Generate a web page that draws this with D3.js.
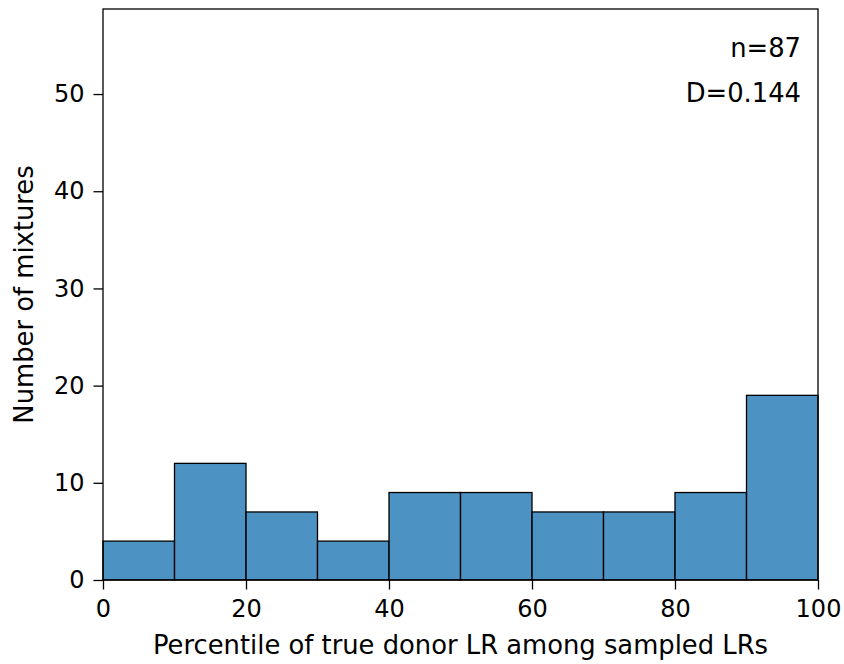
<!DOCTYPE html>
<html>
<head>
<meta charset="utf-8">
<script src="https://cdn.jsdelivr.net/npm/d3@7"></script>
<style>
  html, body { margin: 0; padding: 0; background: #fff; }
  svg text { font-family: "DejaVu Sans", sans-serif; fill: #000; }
</style>
</head>
<body>
<svg id="chart" width="844" height="664"></svg>
<script>
// Histogram of percentiles: bin edges and counts per bin
const binEdges = [0, 10, 20, 30, 40, 50, 60, 70, 80, 90, 100];
const binCounts = [4, 12, 7, 4, 9, 9, 7, 7, 9, 19];
const xTicks = [0, 20, 40, 60, 80, 100];
const yTicks = [0, 10, 20, 30, 40, 50];
const statLines = ["n=87", "D=0.144"];
const xLabel = "Percentile of true donor LR among sampled LRs";
const yLabel = "Number of mixtures";

const svg = d3.select("#chart");
const margin = { left: 103, right: 26, top: 9, bottom: 84 };
const W = 844, H = 664;
const plotW = W - margin.left - margin.right;
const plotH = H - margin.top - margin.bottom;

const x = d3.scaleLinear().domain([0, 100]).range([0, plotW]);
const y = d3.scaleLinear().domain([0, 58.75]).range([plotH, 0]);

const g = svg.append("g").attr("transform", `translate(${margin.left},${margin.top})`);

const bins = binCounts.map((c, i) => ({ x0: binEdges[i], x1: binEdges[i + 1], count: c }));

g.selectAll("rect.bar").data(bins).join("rect")
  .attr("class", "bar")
  .attr("x", d => x(d.x0))
  .attr("width", d => x(d.x1) - x(d.x0))
  .attr("y", d => y(d.count))
  .attr("height", d => y(0) - y(d.count))
  .attr("fill", "#1f77b4")
  .attr("fill-opacity", 0.8)
  .attr("stroke", "#000")
  .attr("stroke-width", 1.3);

// Frame
g.append("rect")
  .attr("x", 0).attr("y", 0).attr("width", plotW).attr("height", plotH)
  .attr("fill", "none").attr("stroke", "#000").attr("stroke-width", 1.3);

const tickFont = 24;
const labelFont = 25.8;

const xAxis = g.append("g").attr("transform", `translate(0,${plotH})`)
  .call(d3.axisBottom(x).tickValues(xTicks).tickSize(9.5).tickPadding(10).tickFormat(d3.format("d")));
const yAxis = g.append("g")
  .call(d3.axisLeft(y).tickValues(yTicks).tickSize(9.5).tickPadding(9).tickFormat(d3.format("d")));

[xAxis, yAxis].forEach(a => {
  a.select(".domain").remove();
  a.selectAll(".tick line").attr("stroke", "#000").attr("stroke-width", 1.3);
  a.selectAll(".tick text").attr("font-size", tickFont).attr("font-family", "DejaVu Sans, sans-serif").attr("fill", "#000");
});

// Axis titles
svg.append("text")
  .attr("x", margin.left + plotW / 2).attr("y", 654)
  .attr("text-anchor", "middle").attr("font-size", labelFont)
  .text(xLabel);

svg.append("text")
  .attr("transform", `translate(33,${margin.top + plotH / 2}) rotate(-90)`)
  .attr("text-anchor", "middle").attr("font-size", labelFont)
  .text(yLabel);

// Statistics annotation, right aligned in the upper corner
g.selectAll("text.stat").data(statLines).join("text")
  .attr("class", "stat")
  .attr("x", plotW - 17)
  .attr("y", (d, i) => 48 + i * 45)
  .attr("text-anchor", "end").attr("font-size", labelFont)
  .text(d => d);
</script>
</body>
</html>
